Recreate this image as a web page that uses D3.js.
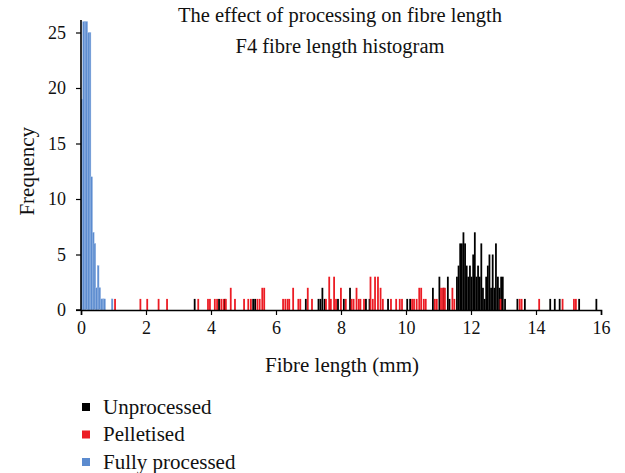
<!DOCTYPE html>
<html>
<head>
<meta charset="utf-8">
<script src="https://cdn.jsdelivr.net/npm/d3@7"></script>
<style>
  body { margin: 0; background: #fff; }
  svg text { font-family: "Liberation Serif", "DejaVu Serif", serif; fill: #111; }
</style>
</head>
<body>
<svg width="625" height="473"></svg>
<script>
// bin starts (mm) and counts
const unprocLen = [3.47, 4.22, 4.40, 5.27, 5.33, 6.89, 7.28, 7.34, 7.40, 7.47, 7.88, 8.06, 8.25, 8.74, 8.85, 9.42, 10.01, 10.10,
  10.80, 11.00, 11.13, 11.26, 11.31, 11.54, 11.59, 11.64, 11.69, 11.74, 11.79, 11.84, 11.89, 11.94, 11.99, 12.04, 12.09,
  12.14, 12.19, 12.24, 12.29, 12.34, 12.39, 12.44, 12.49, 12.54, 12.59, 12.64, 12.69, 12.74, 12.80, 12.85, 12.90, 12.95, 13.02,
  13.40, 13.63, 14.41, 14.55, 14.70, 15.30, 15.83];
const unprocFreq = [1, 1, 1, 1, 1, 1, 1, 1, 2, 1, 1, 1, 2, 1, 1, 1, 1, 1,
  2, 3, 2, 3, 1, 3, 4, 6, 6, 7, 6, 4, 3, 4, 3, 5, 7,
  3, 4, 3, 6, 2, 1, 3, 4, 5, 2, 5, 2, 6, 3, 2, 3, 3, 1,
  1, 1, 1, 1, 1, 1, 1];

const pelletLen = [1.02, 1.80, 2.01, 2.36, 2.62, 3.58, 3.88, 3.94, 4.09, 4.16, 4.29, 4.36, 4.43, 4.58, 4.71, 4.99, 5.12, 5.20,
  5.40, 5.47, 5.55, 5.61, 6.19, 6.26, 6.33, 6.38, 6.50, 6.66, 6.72, 6.95, 7.08, 7.51, 7.61, 7.66, 7.76, 7.82, 7.97,
  8.12, 8.30, 8.36, 8.45, 8.52, 8.57, 8.68, 8.88, 8.95, 9.02, 9.11, 9.19, 9.26, 9.51, 9.67, 9.78, 9.85,
  10.16, 10.22, 10.30, 10.38, 10.44, 10.52, 10.58, 10.86, 10.92, 11.05, 11.11, 11.17, 11.40, 11.46,
  12.88, 13.47, 13.53, 14.07, 14.79, 15.14, 15.20];
const pelletFreq = [1, 1, 1, 1, 1, 1, 1, 1, 1, 1, 1, 1, 1, 2, 1, 1, 1, 1,
  1, 1, 2, 2, 1, 1, 1, 1, 2, 1, 1, 2, 1, 1, 3, 1, 3, 1, 2,
  1, 1, 1, 2, 1, 1, 1, 3, 1, 3, 3, 2, 1, 1, 1, 1, 1,
  1, 1, 1, 2, 2, 1, 1, 1, 1, 2, 2, 2, 2, 1,
  1, 1, 1, 1, 1, 1, 1];

const fullLen = [0.00, 0.05, 0.10, 0.15, 0.20, 0.25, 0.30, 0.35, 0.40, 0.45, 0.50, 0.55, 0.60, 0.65, 0.70, 0.93];
const fullFreq = [19, 31, 29, 27, 25, 25, 12, 7, 6, 2, 4, 2, 1, 1, 1, 1];

const seriesNames = ["Unprocessed", "Pelletised", "Fully processed"];
const seriesColors = ["#000000", "#ec1c24", "#5b8bcf"];
const xTicks = [0, 2, 4, 6, 8, 10, 12, 14, 16];
const yTicks = [0, 5, 10, 15, 20, 25];
const binWidth = 0.055;

const svg = d3.select("svg");
const x = d3.scaleLinear().domain([0, 16]).range([81, 601]);
const y = d3.scaleLinear().domain([0, 26]).range([310, 21.4]);

svg.append("clipPath").attr("id", "plot")
  .append("rect").attr("x", 81).attr("y", y(26)).attr("width", 520).attr("height", y(0) - y(26));

const series = [
  { len: unprocLen, freq: unprocFreq },
  { len: pelletLen, freq: pelletFreq },
  { len: fullLen, freq: fullFreq }
];

const bars = svg.append("g").attr("clip-path", "url(#plot)");
series.forEach((s, i) => {
  bars.append("g")
    .selectAll("rect")
    .data(s.len.map((l, j) => ({ l, f: s.freq[j] })))
    .join("rect")
    .attr("x", d => x(d.l))
    .attr("width", d => x(d.l + binWidth) - x(d.l))
    .attr("y", d => y(d.f))
    .attr("height", d => y(0) - y(d.f))
    .attr("fill", seriesColors[i])
    .attr("stroke", i == 2 ? "#9dbbe6" : "none")
    .attr("stroke-width", 0.4);
});

// axes
const xAxis = svg.append("g")
  .attr("transform", `translate(0,${y(0)})`)
  .call(d3.axisBottom(x).tickValues(xTicks).tickSize(5).tickPadding(6));
const yAxis = svg.append("g")
  .attr("transform", `translate(${x(0)},0)`)
  .call(d3.axisLeft(y).tickValues(yTicks).tickSize(5).tickPadding(10));
[xAxis, yAxis].forEach(a => {
  a.select(".domain").attr("stroke", "#000").attr("stroke-width", 1.6);
  a.selectAll(".tick line").attr("stroke", "#000").attr("stroke-width", 1.2);
  a.selectAll(".tick text").style("font-size", "18px").style("font-family", "Liberation Serif");
});
yAxis.select(".domain").attr("d", `M-5,${y(0)}H0V${y(26) - 1.5}`);

svg.append("text").attr("x", 340).attr("y", 22).attr("text-anchor", "middle")
  .style("font-size", "20.5px").text("The effect of processing on fibre length");
svg.append("text").attr("x", 340).attr("y", 53).attr("text-anchor", "middle")
  .style("font-size", "20.5px").text("F4 fibre length histogram");

svg.append("text").attr("x", 342).attr("y", 372).attr("text-anchor", "middle")
  .style("font-size", "21px").text("Fibre length (mm)");
svg.append("text").attr("transform", `translate(34,${y(12.5)}) rotate(-90)`)
  .attr("text-anchor", "middle").style("font-size", "21px").text("Frequency");

// legend
const legend = svg.append("g").attr("transform", "translate(82,0)");
seriesNames.forEach((n, i) => {
  const cy = 407 + i * 27.5;
  legend.append("rect").attr("x", 0).attr("y", cy - 4).attr("width", 8).attr("height", 8)
    .attr("fill", seriesColors[i]);
  legend.append("text").attr("x", 21).attr("y", cy + 6.5)
    .style("font-size", "21px").text(n);
});
</script>
</body>
</html>
